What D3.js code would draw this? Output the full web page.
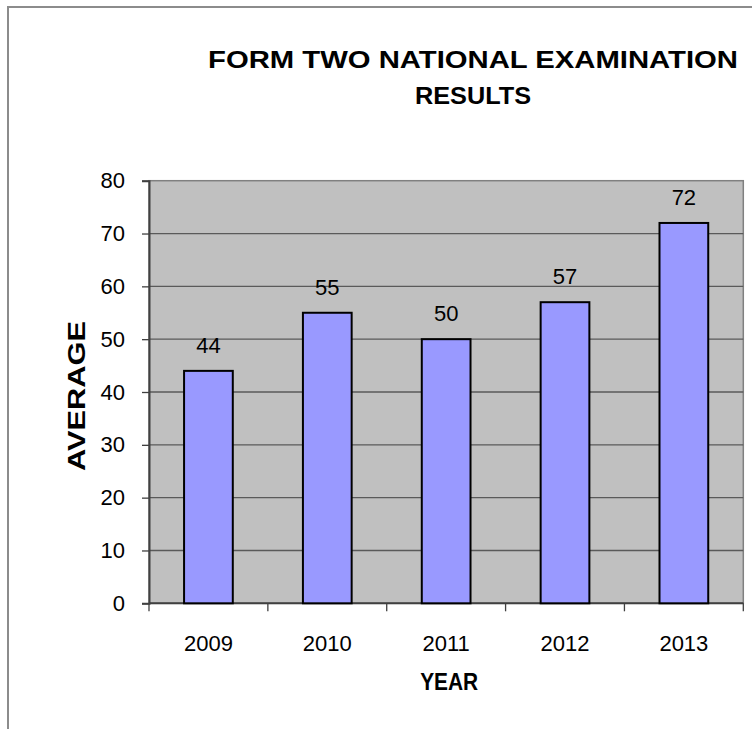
<!DOCTYPE html>
<html>
<head>
<meta charset="utf-8">
<script src="https://cdn.jsdelivr.net/npm/d3@7"></script>
<style>
  body { margin: 0; background: #fff; }
  text { font-family: "Liberation Sans", Arial, sans-serif; fill: #000; }
</style>
</head>
<body>
<div id="chart"></div>
<script>
// chart data
var years = ["2009", "2010", "2011", "2012", "2013"];
var averages = [44, 55, 50, 57, 72];
var yTicks = [0, 10, 20, 30, 40, 50, 60, 70, 80];
var titleLines = ["FORM TWO NATIONAL EXAMINATION", "RESULTS"];
var titleWidths = [530, 116];

var W = 752, H = 729;
var plot = { left: 149, top: 180.7, right: 743.3, bottom: 603.3 };

var svg = d3.select("#chart")
  .append("svg")
  .attr("width", W)
  .attr("height", H);

// outer chart border (right / bottom run off the picture)
svg.append("rect")
  .attr("x", 8).attr("y", 7)
  .attr("width", 800).attr("height", 800)
  .attr("fill", "none")
  .attr("stroke", "#8c8c8c")
  .attr("stroke-width", 2);

var x = d3.scaleBand()
  .domain(years)
  .range([plot.left, plot.right])
  .padding(0);

var y = d3.scaleLinear()
  .domain([0, 80])
  .range([plot.bottom, plot.top]);

// plot area
svg.append("rect")
  .attr("x", plot.left).attr("y", plot.top)
  .attr("width", plot.right - plot.left)
  .attr("height", plot.bottom - plot.top)
  .attr("fill", "#c0c0c0")
  .attr("stroke", "#808080")
  .attr("stroke-width", 1.5);

// gridlines
svg.append("g")
  .selectAll("line")
  .data(yTicks.filter(function (d) { return d > 0 && d < 80; }))
  .enter()
  .append("line")
  .attr("x1", plot.left).attr("x2", plot.right)
  .attr("y1", function (d) { return y(d); })
  .attr("y2", function (d) { return y(d); })
  .attr("stroke", "#5a5a5a")
  .attr("stroke-width", 1.3);

// y axis
var yAxis = svg.append("g")
  .attr("transform", "translate(" + plot.left + ",0)")
  .call(d3.axisLeft(y).tickValues(yTicks).tickSize(7).tickPadding(17));
yAxis.select(".domain").attr("stroke", "#404040").attr("stroke-width", 2);
yAxis.selectAll(".tick line").attr("stroke", "#404040").attr("stroke-width", 1.3);
yAxis.selectAll("text")
  .attr("font-size", "22px")
  .attr("font-family", "Liberation Sans, Arial, sans-serif")
  .attr("fill", "#000");

// x axis line + ticks at band edges
svg.append("line")
  .attr("x1", plot.left).attr("x2", plot.right)
  .attr("y1", plot.bottom).attr("y2", plot.bottom)
  .attr("stroke", "#404040")
  .attr("stroke-width", 2);

var edges = years.map(function (d) { return x(d); }).concat([plot.right]);
svg.append("g")
  .selectAll("line")
  .data(edges)
  .enter()
  .append("line")
  .attr("x1", function (d) { return d; })
  .attr("x2", function (d) { return d; })
  .attr("y1", plot.bottom)
  .attr("y2", plot.bottom + 8)
  .attr("stroke", "#404040")
  .attr("stroke-width", 1.3);

svg.append("g")
  .selectAll("text")
  .data(years)
  .enter()
  .append("text")
  .attr("x", function (d) { return x(d) + x.bandwidth() / 2; })
  .attr("y", 651)
  .attr("text-anchor", "middle")
  .attr("font-size", "22px")
  .text(function (d) { return d; });

// bars
var barW = x.bandwidth() * 0.41;
svg.append("g")
  .selectAll("rect")
  .data(averages)
  .enter()
  .append("rect")
  .attr("x", function (d, i) { return x(years[i]) + (x.bandwidth() - barW) / 2; })
  .attr("y", function (d) { return y(d); })
  .attr("width", barW)
  .attr("height", function (d) { return plot.bottom - y(d); })
  .attr("fill", "#9999ff")
  .attr("stroke", "#000")
  .attr("stroke-width", 2);

// value labels
svg.append("g")
  .selectAll("text")
  .data(averages)
  .enter()
  .append("text")
  .attr("x", function (d, i) { return x(years[i]) + x.bandwidth() / 2; })
  .attr("y", function (d) { return y(d) - 18; })
  .attr("text-anchor", "middle")
  .attr("font-size", "22px")
  .text(function (d) { return d; });

// title (wide, stretched like the original)
svg.append("g")
  .selectAll("text")
  .data(titleLines)
  .enter()
  .append("text")
  .attr("x", 473)
  .attr("y", function (d, i) { return 67.5 + i * 36; })
  .attr("text-anchor", "middle")
  .attr("font-size", "24.5px")
  .attr("font-weight", "bold")
  .attr("textLength", function (d, i) { return titleWidths[i]; })
  .attr("lengthAdjust", "spacingAndGlyphs")
  .text(function (d) { return d; });

// axis titles
svg.append("text")
  .attr("x", (plot.left + plot.right) / 2 + 3)
  .attr("y", 690)
  .attr("text-anchor", "middle")
  .attr("font-size", "24px")
  .attr("font-weight", "bold")
  .attr("textLength", 58)
  .attr("lengthAdjust", "spacingAndGlyphs")
  .text("YEAR");

svg.append("text")
  .attr("transform", "translate(85,396) rotate(-90)")
  .attr("text-anchor", "middle")
  .attr("font-size", "24.5px")
  .attr("font-weight", "bold")
  .attr("textLength", 150)
  .attr("lengthAdjust", "spacingAndGlyphs")
  .text("AVERAGE");
</script>
</body>
</html>
